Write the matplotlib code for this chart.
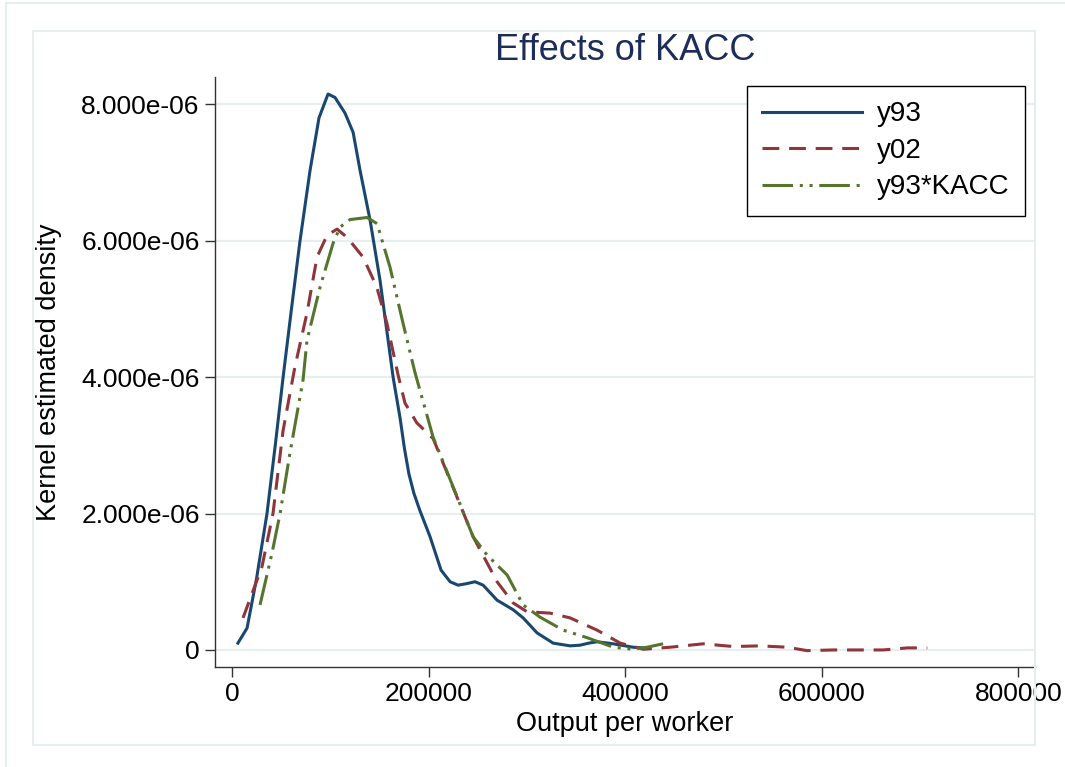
import numpy as np
import matplotlib.pyplot as plt
from matplotlib.patches import Rectangle

plt.rcParams['font.family'] = ['Liberation Sans', 'DejaVu Sans']

# y93 kernel density (x in output per worker, y in 1e-6)
y93_x = [6000, 15300, 25000, 35600, 44000, 52000, 60500, 69200, 79400, 88500, 97700,
         104800, 115000, 123200, 130300, 140500, 150600, 163900, 171000, 175500, 180000,
         185000, 191000, 201500, 212700, 221900, 230000, 238000, 247300, 255500, 269700,
         286000, 296200, 310400, 326700, 344000, 354200, 363000, 371500, 388000, 408000,
         418000]
y93_y = [0.10, 0.32, 1.05, 2.00, 3.00, 4.00, 5.00, 6.00, 7.03, 7.80, 8.15,
         8.10, 7.87, 7.59, 7.03, 6.30, 5.42, 4.00, 3.40, 2.95, 2.58,
         2.30, 2.05, 1.66, 1.17, 1.00, 0.95, 0.97, 1.00, 0.95, 0.73,
         0.59, 0.47, 0.25, 0.10, 0.06, 0.07, 0.10, 0.12, 0.09, 0.04,
         0.03]

# y02 kernel density
y02_x = [11200, 30500, 41700, 52000, 64000, 76300, 86500, 96700, 106900, 117000,
         133300, 147300, 157600, 169000, 176000, 188000, 204600, 221900, 245300, 252400,
         269700, 286000, 300200, 323600, 344000, 371500, 395000, 418400, 445800, 479400,
         510000, 537400, 564900, 585200, 611700, 662600, 687000, 707400]
y02_y = [0.47, 1.22, 2.00, 3.22, 4.15, 4.94, 5.76, 6.08, 6.17, 6.05,
         5.76, 5.32, 4.79, 4.03, 3.62, 3.33, 3.10, 2.49, 1.66, 1.47,
         1.00, 0.69, 0.56, 0.54, 0.47, 0.29, 0.10, 0.01, 0.04, 0.09,
         0.05, 0.06, 0.04, -0.01, 0.00, 0.00, 0.03, 0.03]

# y93*KACC kernel density
kacc_x = [28500, 40700, 48900, 59000, 72300, 76300, 89600, 102800, 110000, 120100,
          137400, 147600, 160800, 174000, 186300, 204600, 225000, 245300,
          259600, 272800, 279900, 296200, 313500, 337000, 361300, 388000, 408000,
          422300, 438600]
kacc_y = [0.66, 1.42, 2.00, 2.89, 3.96, 4.54, 5.32, 5.96, 6.20, 6.31,
          6.34, 6.25, 5.61, 4.79, 4.06, 3.12, 2.39, 1.66,
          1.39, 1.20, 1.10, 0.66, 0.48, 0.29, 0.18, 0.04, 0.01,
          0.04, 0.09]

yticks = [0, 2, 4, 6, 8]
ytick_labels = ['0', '2.000e-06', '4.000e-06', '6.000e-06', '8.000e-06']
xticks = [0, 200000, 400000, 600000, 800000]

navy = '#1a476f'
maroon = '#90353b'
green = '#55752f'
grid_col = '#e6eef0'

fig = plt.figure(figsize=(10.65, 7.67), dpi=100)

# Stata-style region frames
fig.patches.append(Rectangle((6 / 1065, -0.01), 1.02, 1 - 3 / 767 + 0.01, transform=fig.transFigure,
                             fill=False, edgecolor=grid_col, lw=1.5))
fig.patches.append(Rectangle((33 / 1065, 1 - 745 / 767), (1035 - 33) / 1065, (745 - 31) / 767,
                             transform=fig.transFigure, fill=False, edgecolor=grid_col, lw=1.5))

ax = fig.add_axes([215 / 1065, 1 - 667 / 767, 820 / 1065, 590 / 767])

ax.plot(y93_x, np.array(y93_y) * 1e-6, color=navy, lw=2.2, label='y93')
ax.plot(y02_x, np.array(y02_y) * 1e-6, color=maroon, lw=2.2, dashes=(5.5, 3.2), label='y02')
ax.plot(kacc_x, np.array(kacc_y) * 1e-6, color=green, lw=2.2,
        dashes=(10, 2.2, 1, 2.2, 1, 2.2), label='y93*KACC')

ax.set_xlim(-17300, 817000)
ax.set_ylim(-0.25e-6, 8.4e-6)
ax.set_xticks(xticks)
ax.set_xticklabels([str(v) for v in xticks])
ax.set_yticks([v * 1e-6 for v in yticks])
ax.set_yticklabels(ytick_labels)
ax.tick_params(axis='both', labelsize=19, length=7, width=1, color='#333333', pad=4)

for v in yticks:
    ax.axhline(v * 1e-6, color=grid_col, lw=1.6, zorder=0)

for s in ['top', 'right']:
    ax.spines[s].set_visible(False)
for s in ['left', 'bottom']:
    ax.spines[s].set_color('#333333')
    ax.spines[s].set_linewidth(1)

ax.set_xlabel('Output per worker', fontsize=19.5)
ax.set_ylabel('Kernel estimated density', fontsize=19.5)
ax.xaxis.set_label_coords(0.5, -0.075)
ax.yaxis.set_label_coords(-0.186, 0.5)

fig.text(625 / 1065, 1 - 51 / 767, 'Effects of KACC', fontsize=26, color='#1c2d5a',
         ha='center', va='center')

leg = ax.legend(loc='upper right', bbox_to_anchor=(0.9878, 0.9847), borderaxespad=0,
                fontsize=20, handlelength=3.6, handletextpad=0.55, labelspacing=0.38,
                borderpad=0.55, fancybox=False, framealpha=1)
leg.get_frame().set_edgecolor('black')
leg.get_frame().set_linewidth(1)

fig.savefig('out.png', dpi=100)
